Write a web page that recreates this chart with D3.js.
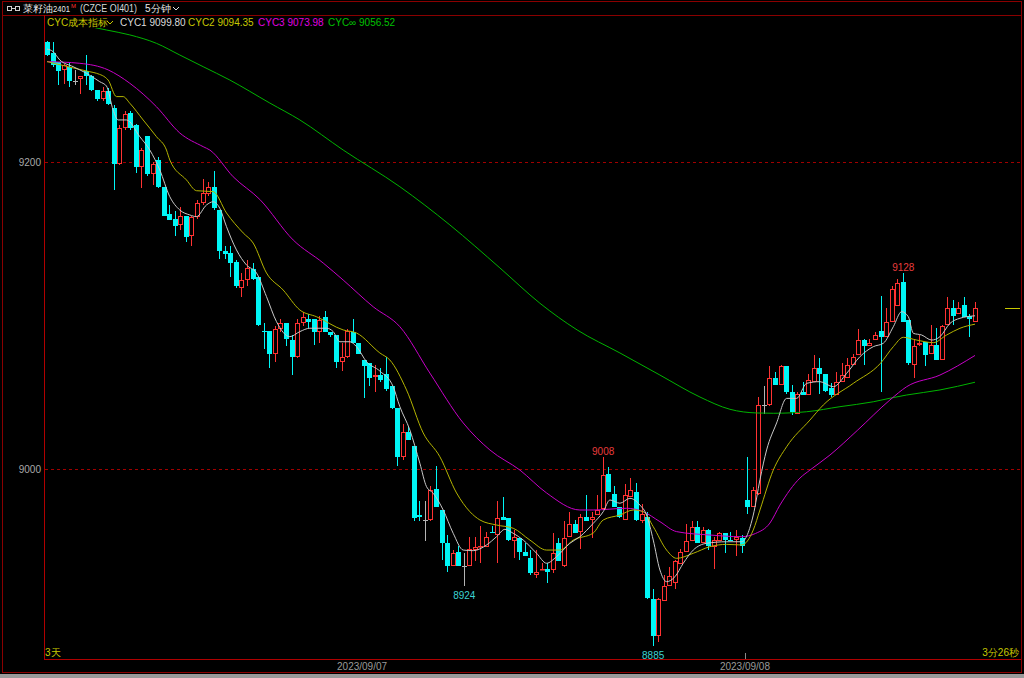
<!DOCTYPE html>
<html><head><meta charset="utf-8">
<script src="https://cdn.jsdelivr.net/npm/d3@7"></script>
<style>html,body{margin:0;padding:0;background:#000;overflow:hidden}svg{display:block}text{font-family:"Liberation Sans",Arial,sans-serif}</style>
</head><body><svg id="c" width="1024" height="678"></svg>
<script>
// ---- data (5-minute candles, rapeseed oil OI401) ----
const opens = [9278,9271,9265,9260,9262,9253,9254,9259,9256,9247,
9241,9246,9235,9199,9222,9232,9224,9197,9217,9192,
9201,9184,9166,9163,9159,9165,9152,9164,9173,9179,
9184,9169,9142,9141,9135,9118,9123,9130,9125,9090,
9090,9075,9091,9095,9084,9073,9095,9098,9098,9089,
9099,9089,9087,9070,9073,9089,9082,9071,9069,9060,
9061,9062,9054,9040,9008,9024,9015,8970,8967,8967,
8987,8973,8952,8937,8946,8937,8937,8947,8949,8949,
8959,8957,8969,8968,8953,8955,8946,8942,8931,8934,
8935,8934,8952,8937,8956,8964,8959,8969,8967,8970,
8974,8997,8984,8975,8967,8982,8985,8966,8969,8915,
8891,8914,8924,8926,8938,8946,8953,8962,8952,8960,
8949,8953,8958,8954,8954,8955,8980,8975,8984,9042,
9042,9059,9055,9067,9050,9036,9050,9048,9057,9066,
9062,9053,9048,9057,9059,9068,9074,9084,9080,9084,
9090,9086,9096,9106,9122,9097,9068,9081,9083,9075,
9081,9071,9094,9105,9101,9107,9100,9096];
const highs = [9279,9278,9265,9264,9265,9260,9256,9270,9257,9247,
9249,9248,9237,9224,9233,9233,9225,9209,9217,9200,
9203,9184,9172,9168,9171,9165,9165,9175,9189,9187,
9194,9169,9145,9145,9136,9128,9136,9134,9125,9095,
9090,9093,9098,9095,9087,9098,9102,9101,9098,9100,
9103,9089,9087,9082,9091,9098,9082,9071,9069,9068,
9066,9073,9054,9040,9029,9028,9015,8979,8979,8989,
9002,8973,8957,8947,8950,8945,8956,8956,8963,8959,
8963,8979,8982,8968,8960,8955,8952,8947,8947,8939,
8939,8958,8955,8966,8972,8967,8971,8983,8972,8983,
9008,9001,8989,8975,8990,8994,8991,8977,8972,8922,
8916,8931,8936,8941,8948,8964,8966,8966,8962,8961,
8956,8959,8958,8959,8960,8957,9008,8988,9047,9054,
9067,9063,9068,9067,9055,9050,9057,9062,9074,9072,
9062,9056,9063,9069,9072,9075,9091,9085,9085,9089,
9113,9105,9119,9124,9128,9097,9085,9087,9083,9094,
9092,9094,9112,9110,9109,9112,9101,9109];
const lows = [9269,9262,9250,9251,9249,9250,9244,9250,9246,9240,
9240,9237,9182,9198,9221,9221,9193,9183,9191,9185,
9183,9165,9162,9152,9156,9148,9145,9163,9172,9178,
9169,9137,9137,9125,9118,9112,9119,9123,9093,9078,
9066,9070,9089,9080,9061,9072,9093,9092,9081,9082,
9089,9086,9066,9064,9072,9082,9075,9046,9054,9050,
9057,9051,9039,9002,9006,9019,8966,8966,8953,8966,
8975,8941,8933,8937,8937,8924,8937,8940,8939,8949,
8958,8939,8967,8953,8942,8941,8943,8931,8929,8934,
8926,8932,8940,8936,8956,8958,8948,8966,8955,8970,
8973,8985,8975,8968,8967,8982,8966,8965,8915,8885,
8887,8914,8924,8922,8938,8946,8953,8952,8952,8947,
8935,8953,8945,8953,8943,8945,8971,8975,8983,9036,
9041,9055,9055,9049,9035,9036,9048,9048,9057,9049,
9050,9047,9048,9057,9059,9068,9074,9068,9080,9084,
9050,9086,9096,9106,9096,9068,9059,9080,9067,9075,
9071,9071,9094,9094,9101,9099,9086,9096];
const closes = [9270,9263,9259,9263,9253,9253,9256,9256,9247,9241,
9246,9238,9199,9222,9231,9222,9197,9208,9192,9199,
9184,9165,9162,9158,9165,9151,9164,9173,9180,9184,
9170,9142,9140,9134,9119,9123,9131,9124,9094,9089,
9075,9091,9095,9085,9073,9095,9099,9096,9089,9097,
9089,9087,9070,9073,9090,9082,9075,9067,9059,9061,
9058,9052,9040,9008,9024,9019,8968,8969,8967,8986,
8975,8952,8937,8945,8937,8937,8948,8949,8950,8956,
8958,8968,8967,8954,8956,8946,8943,8932,8933,8935,
8933,8945,8940,8955,8964,8958,8969,8966,8969,8973,
8996,8985,8975,8969,8983,8986,8967,8971,8916,8891,
8915,8924,8930,8940,8946,8953,8962,8952,8960,8950,
8954,8958,8954,8953,8956,8950,8975,8986,9042,9042,
9059,9055,9067,9050,9037,9049,9048,9058,9066,9062,
9051,9048,9057,9061,9068,9073,9084,9080,9082,9087,
9086,9096,9117,9121,9096,9069,9080,9082,9074,9081,
9071,9093,9105,9100,9105,9099,9098,9105];

// CYC indicator lines: [candle position, value]
const cyc1Idx = [0,1.1,2.3,4.7,7.1,9.5,10.7,11.9,12.8,14.3,16.7,18.5,20.3,22.1,23.9,25.7,26.9,28.7,29.9,31.1,32.3,34.1,35.9,37.7,39.5,41.3,43.7,45.5,47.3,50.3,51.5,52.7,54.5,55.7,57.5,59.9,62.3,63.5,65.3,67.1,68.3,69.5,71.3,73.1,74.9,76.7,79.1,80.9,82.4,83.9,85.7,88.1,89.9,91.7,94.1,95.9,98.3,100.1,101.3,103.1,104.9,106.7,107.9,109.1,110.3,111.5,113,114.5,116.3,118.7,122.3,125,127.1,128.3,129.5,131.3,133.1,134.9,136.7,139.1,141.5,143.9,146.3,148.7,150.5,152.3,153.8,155,155.9,157.4,159.2,160.7,162.5,164.3,167];
const cyc1Val = [9273.6,9271.9,9266.5,9262.1,9257.8,9252.3,9249.5,9233.9,9227.4,9227.4,9216.5,9207.8,9194.8,9177.4,9168.7,9165.5,9164.4,9172,9174.1,9169.8,9157.9,9142.7,9132.9,9127.7,9112.3,9096,9086.2,9089.5,9091.7,9091.7,9089.5,9082.9,9082.9,9079.7,9069.9,9063.8,9053.6,9040.6,9025.4,9003.7,8988.5,8984.2,8973.3,8958.1,8947.2,8946.8,8950.5,8955.9,8960.7,8958.1,8953.7,8945.1,8938.6,8942.9,8951.6,8955.9,8964.6,8972.2,8979.8,8977.7,8980.9,8976.5,8970,8953.7,8934.2,8926.6,8929.8,8938.6,8947.2,8951.6,8952.6,8952.6,8970,8993,9012.4,9030,9046,9046,9055.8,9056.9,9053.6,9062.3,9073.2,9079.7,9081.9,9092.7,9102.5,9099.2,9088.4,9087.3,9084,9086.2,9094.9,9098.2,9099.8];
const cyc2Idx = [0,4.7,7.7,8.9,11,12.5,13.7,14.9,17.3,19.7,21.5,22.1,25.1,26.9,29.9,32.3,35.3,37.1,39.5,42.5,45.5,48.5,53.3,55.7,59.9,61.7,64.7,67.7,70.7,73.7,76.1,77.9,80.9,83.9,86.9,89.9,92.3,94.7,98.3,100.1,103.1,105.5,107.3,109.1,111.5,113.3,116.3,119.3,122.3,125,127.1,128.3,130.7,133.1,137.3,139.7,145.1,150,152.3,154.1,156.5,159.5,161.9,164.3,167];
const cyc2Val = [9265.4,9261.3,9258.8,9257.8,9253.4,9242.6,9242.6,9238.3,9227.4,9216.5,9207.8,9201.3,9188.3,9181.3,9180.7,9166.8,9153.8,9147.2,9127.7,9116.6,9103.6,9099.2,9090.6,9088.6,9075.6,9071,9051.5,9023.5,9008,8984.4,8972.2,8966.8,8963.5,8961.4,8953.7,8947.2,8947.2,8953.7,8958.3,8966.8,8970,8973.3,8972.2,8962.4,8947.2,8941.8,8945.1,8949.4,8950.9,8950.5,8960.3,8973.3,8999.3,9014.5,9031.9,9041.7,9055.8,9068.9,9079.7,9085.8,9084,9082.3,9087.3,9091.7,9094.35];
const cyc3Idx = [0,5.9,11,14.9,19.7,23.9,28.1,29.3,33.5,38.3,44.3,49.7,53.3,58.7,63.5,68.9,74.9,79.7,85.1,89.9,95.9,98.3,104.3,107.3,110.3,113.3,119.3,125,127.5,130.1,131.9,135.5,137.3,140.9,145.9,151.7,154.7,160.7,167];
const cyc3Val = [9265.4,9264.3,9260,9251.3,9236,9218.9,9210,9207.8,9190.4,9175.6,9149.2,9134.2,9123.1,9105.7,9092.7,9062.5,9030,9012.4,8999.3,8984.4,8973.3,8973.3,8974.4,8972.2,8965.7,8959.2,8957,8955.9,8958,8964.8,8976.5,8994.1,8999.3,9009.1,9025.4,9045,9053.6,9061.2,9073.98];
const cycInfIdx = [0,10.7,14.9,19.7,23.9,28.1,32.9,40.1,45.5,53.3,63.5,72.5,81.5,88.7,95.4,103.1,110.3,117.5,122.9,127.7,130.7,136.7,142.7,148.7,151.7,154.7,160.7,167];
const cycInfVal = [9294,9286,9282.8,9277.3,9269.7,9262.1,9253.4,9238.4,9227.4,9207.8,9183.9,9159,9131,9108,9090.6,9075.6,9061.2,9046.9,9038.9,9036.5,9036.3,9037.3,9040.6,9043.8,9046.1,9048.2,9051.5,9056.52];

const yTicks = [9000, 9200];
const dateLabels = ["2023/09/07", "2023/09/08"];
const dateIdx = [56.7, 125.6];
const markIdx = [100, 154, 75, 109];
const markKind = ["high", "high", "low", "low"];
const legendNames = ["CYC1", "CYC2", "CYC3", "CYC\u221e"];
const legendValues = ["9099.80", "9094.35", "9073.98", "9056.52"];

// ---- drawing ----
const svg = d3.select("#c");
const plotL = 44, plotR = 1021, plotT = 28, plotB = 659;
const x = d3.scaleLinear().domain([0, 167]).range([47, 975]);
const y = d3.scaleLinear().domain([9000, 9200]).range([469, 162]);

const RED = "#ff3232", CYAN = "#00f6f6", GRAY = "#b4b4b4";
const FRAME = "#8a0000";

svg.append("rect").attr("width", 1024).attr("height", 678).attr("fill", "#000");

// frames
svg.append("rect").attr("x", 2.5).attr("y", 1.5).attr("width", 1019).attr("height", 671).attr("fill", "none").attr("stroke", FRAME);
svg.append("line").attr("x1", 2).attr("x2", 1021).attr("y1", 15.5).attr("y2", 15.5).attr("stroke", FRAME);
svg.append("line").attr("x1", plotL + 0.5).attr("x2", plotL + 0.5).attr("y1", 15).attr("y2", plotB).attr("stroke", "#b00000");
svg.append("line").attr("x1", plotL).attr("x2", plotR).attr("y1", plotB + 0.5).attr("y2", plotB + 0.5).attr("stroke", "#b00000");
svg.append("rect").attr("x", 0).attr("y", 674).attr("width", 1024).attr("height", 4).attr("fill", "#9a9a9a");

// title row
const tg = svg.append("g");
tg.append("rect").attr("x", 7.5).attr("y", 6.5).attr("width", 4).attr("height", 4).attr("fill", "none").attr("stroke", "#d0d0d0");
tg.append("rect").attr("x", 15.5).attr("y", 6.5).attr("width", 4).attr("height", 4).attr("fill", "none").attr("stroke", "#d0d0d0");
tg.append("line").attr("x1", 11.5).attr("x2", 15.5).attr("y1", 8.5).attr("y2", 8.5).attr("stroke", "#d0d0d0");
tg.append("text").attr("x", 23).attr("y", 12).attr("fill", "#e8e8e8").attr("font-size", 10).attr("font-family", "Noto Sans CJK SC").text("菜籽油");
tg.append("text").attr("x", 53).attr("y", 12).attr("fill", "#e8e8e8").attr("font-size", 9).attr("textLength", 17).attr("lengthAdjust", "spacingAndGlyphs").text("2401");
tg.append("text").attr("x", 71).attr("y", 8).attr("fill", "#ff3030").attr("font-size", 6).text("M");
tg.append("text").attr("x", 80).attr("y", 12).attr("fill", "#d8d8d8").attr("font-size", 10).attr("textLength", 57).attr("lengthAdjust", "spacingAndGlyphs").text("(CZCE OI401)");
tg.append("text").attr("x", 145).attr("y", 12).attr("fill", "#e8e8e8").attr("font-size", 10).attr("font-family", "Noto Sans CJK SC").text("5分钟");
tg.append("path").attr("d", "M173,7 L176,10 L179,7").attr("fill", "none").attr("stroke", "#e0e0e0");

// legend row
const lg = svg.append("g");
lg.append("text").attr("x", 47).attr("y", 26).attr("fill", "#c8c800").attr("font-size", 10).attr("font-family", "Noto Sans CJK SC").text("CYC成本指标");
lg.append("path").attr("d", "M107,21 L110,24 L113,21").attr("fill", "none").attr("stroke", "#c8c800");
const legendColors = ["#dcdcdc", "#c8c800", "#e000e0", "#00c000"];
const legendX = [120, 188, 258, 328];
legendNames.forEach((n, k) => {
  lg.append("text").attr("x", legendX[k]).attr("y", 26).attr("fill", legendColors[k]).attr("font-size", 10)
    .text(n + " " + legendValues[k]);
});

// grid
svg.append("g").selectAll("line").data(yTicks).join("line")
  .attr("x1", plotL + 1).attr("x2", plotR)
  .attr("y1", d => Math.round(y(d)) + 0.5).attr("y2", d => Math.round(y(d)) + 0.5)
  .attr("stroke", "#a00000").attr("stroke-dasharray", "3,3");

// y axis labels
const yAxis = d3.axisLeft(y).tickValues(yTicks).tickSize(0).tickPadding(3).tickFormat(d3.format("d"));
const ya = svg.append("g").attr("transform", `translate(${plotL},0)`).call(yAxis);
ya.select(".domain").remove();
ya.selectAll("text").attr("fill", "#a8a8a8").attr("font-size", 10).attr("font-family", "Liberation Sans");

// clip
svg.append("clipPath").attr("id", "pc").append("rect").attr("x", plotL + 1).attr("y", plotT).attr("width", 1000 - plotL).attr("height", plotB - plotT);
const plot = svg.append("g").attr("clip-path", "url(#pc)");

// CYC lines
const lineGen = d3.line().x(d => x(d[0])).y(d => y(d[1])).curve(d3.curveMonotoneX);
const series = [
  [cycInfIdx, cycInfVal, "#00b400"],
  [cyc3Idx, cyc3Val, "#c800c8"],
  [cyc2Idx, cyc2Val, "#b4b400"],
  [cyc1Idx, cyc1Val, "#c8c8c8"]
];

// candles
const candles = opens.map((o, i) => ({ i, o, h: highs[i], l: lows[i], c: closes[i] }));
const cg = plot.append("g");
candles.forEach(d => {
  const cx = Math.round(x(d.i));
  const up = d.c > d.o, flat = d.c === d.o;
  const col = flat ? GRAY : (up ? RED : CYAN);
  const top = Math.round(y(Math.max(d.o, d.c)));
  const bot = Math.round(y(Math.min(d.o, d.c)));
  const hy = Math.round(y(d.h)), ly = Math.round(y(d.l));
  const wx = cx + 0.5;
  if (flat) {
    cg.append("line").attr("x1", wx).attr("x2", wx).attr("y1", hy).attr("y2", ly).attr("stroke", col);
    cg.append("line").attr("x1", cx - 2).attr("x2", cx + 3).attr("y1", top + 0.5).attr("y2", top + 0.5).attr("stroke", col);
    return;
  }
  cg.append("line").attr("x1", wx).attr("x2", wx).attr("y1", hy).attr("y2", top).attr("stroke", col);
  cg.append("line").attr("x1", wx).attr("x2", wx).attr("y1", Math.max(bot, top + 1)).attr("y2", ly).attr("stroke", col);
  const bh = Math.max(1, bot - top);
  if (up) {
    cg.append("rect").attr("x", cx - 1.5).attr("y", top + 0.5).attr("width", 4).attr("height", Math.max(bh - 1, 0.5))
      .attr("fill", "#000").attr("stroke", col);
  } else {
    cg.append("rect").attr("x", cx - 2).attr("y", top).attr("width", 5).attr("height", bh).attr("fill", col);
  }
});

series.forEach(([idx, val, col]) => {
  plot.append("path").datum(idx.map((v, k) => [v, val[k]]))
    .attr("d", lineGen).attr("fill", "none").attr("stroke", col).attr("stroke-width", 1);
});

// extreme markers
markIdx.forEach((mi, k) => {
  const hi = markKind[k] === "high";
  svg.append("text").attr("x", x(mi) + 0.5).attr("y", hi ? y(highs[mi]) - 2 : y(lows[mi]) + 13)
    .attr("text-anchor", "middle").attr("font-size", 10)
    .attr("fill", hi ? "#e83c3c" : "#3cd2d2")
    .text(hi ? highs[mi] : lows[mi]);
});

// last price marker at right
svg.append("line").attr("x1", 1005).attr("x2", 1020)
  .attr("y1", Math.round(y(closes[closes.length - 1])) + 0.5).attr("y2", Math.round(y(closes[closes.length - 1])) + 0.5)
  .attr("stroke", "#c8c800");

// x axis date labels
const xg = svg.append("g");
dateLabels.forEach((t, k) => {
  xg.append("text").attr("x", x(dateIdx[k])).attr("y", 670).attr("text-anchor", "middle")
    .attr("fill", "#9a9a9a").attr("font-size", 10).text(t);
});
xg.append("line").attr("x1", Math.round(x(dateIdx[1])) + 0.5).attr("x2", Math.round(x(dateIdx[1])) + 0.5)
  .attr("y1", plotB - 6).attr("y2", plotB).attr("stroke", "#8a8a8a");

// corner notes
svg.append("text").attr("x", 45).attr("y", 656).attr("fill", "#c8c800").attr("font-size", 10).attr("font-family", "Noto Sans CJK SC").text("3天");
svg.append("text").attr("x", 1019).attr("y", 656).attr("text-anchor", "end").attr("fill", "#c8c800").attr("font-size", 10).attr("font-family", "Noto Sans CJK SC").text("3分26秒");
</script></body></html>
